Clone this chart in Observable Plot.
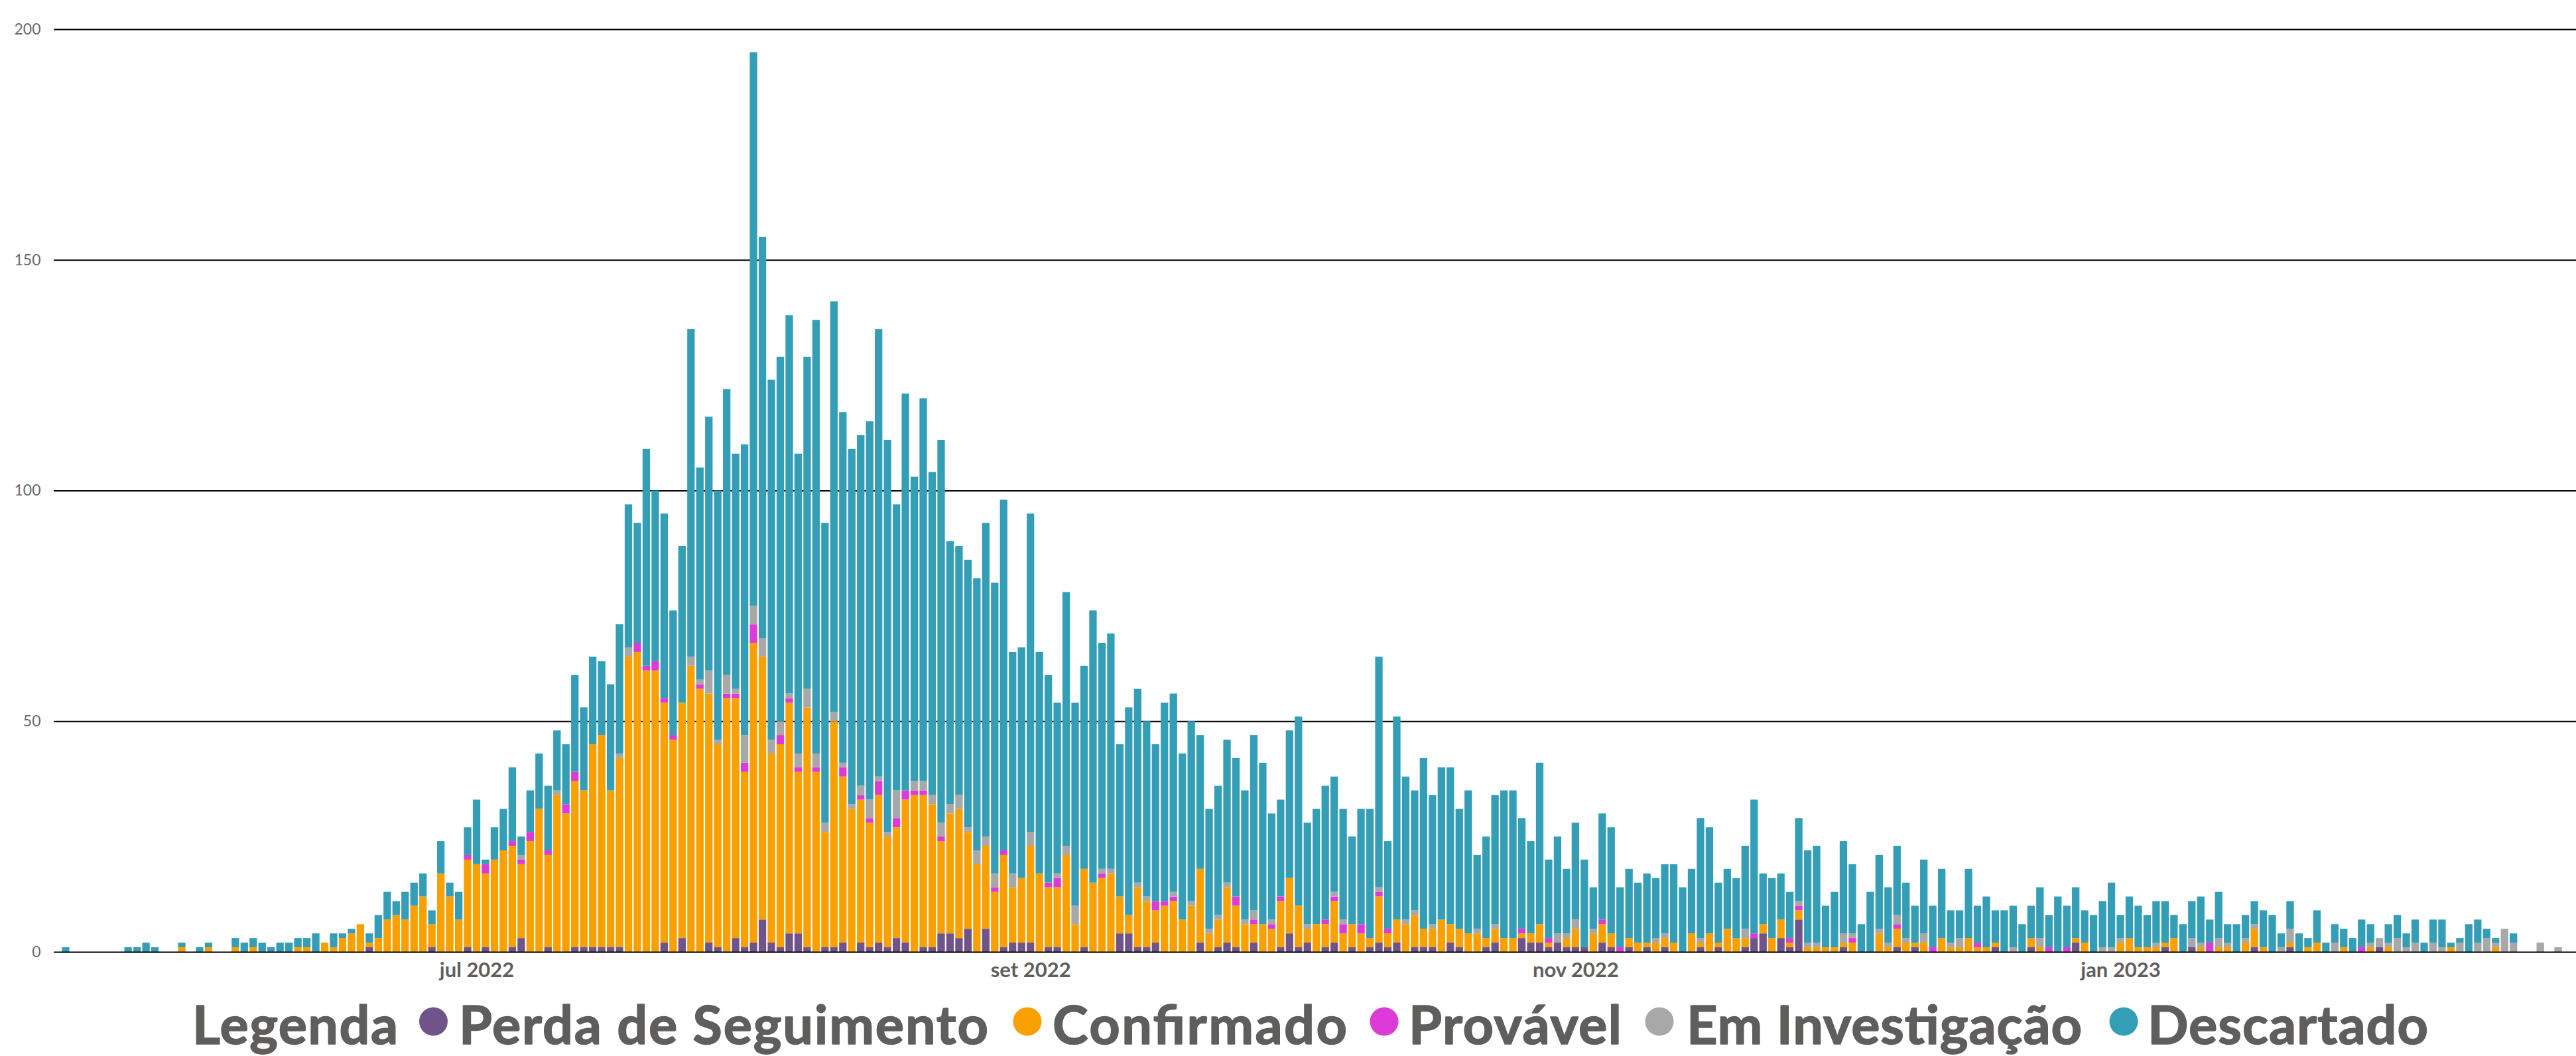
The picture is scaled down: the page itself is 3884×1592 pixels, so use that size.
<!DOCTYPE html>
<html>
<head>
<meta charset="utf-8">
<script src="https://cdn.jsdelivr.net/npm/d3@7"></script>
<script src="https://cdn.jsdelivr.net/npm/@observablehq/plot@0.6"></script>
<style>
  html, body { margin: 0; padding: 0; background: #ffffff; width: 3884px; height: 1592px; overflow: hidden; }
  #chart svg, #legend svg { display: block; }
</style>
</head>
<body>
<div id="chart"></div>
<div id="legend"></div>
<script>
// ---------------- DATA ----------------
const startDate = "2022-05-16"; // first day shown, one bar per day
const seriesNames = ["Perda de Seguimento", "Confirmado", "Provável", "Em Investigação", "Descartado"];
const seriesColors = ["#705489", "#F9A001", "#DC3BD8", "#A8A8A8", "#359EB7"];
const legendTitle = "Legenda";

const perda = [
  0,0,0,0,0,0,0,0,0,0, 0,0,0,0,0,0,0,0,0,0, 0,0,0,0,0,0,0,0,0,0,
  0,0,0,0,1,0,0,0,0,0, 0,1,0,0,0,1,0,1,0,0, 1,3,0,0,1,0,0,1,1,1,
  1,1,1,0,0,0,0,2,0,3, 0,0,2,1,0,3,1,2,7,2, 1,4,4,1,0,1,1,2,0,2,
  1,2,1,3,2,0,1,1,4,4, 3,5,0,5,0,1,2,2,2,0, 1,1,0,0,1,0,0,0,4,4,
  1,1,2,0,0,0,0,2,0,1, 2,1,0,2,0,0,1,4,1,2, 0,1,2,0,1,0,1,2,1,2,
  0,1,1,1,0,2,1,0,0,1, 2,0,0,3,2,2,1,2,1,1, 1,0,2,1,0,1,0,1,0,1,
  0,0,0,1,0,1,0,0,1,3, 4,0,3,1,7,0,0,0,0,1, 0,0,0,0,0,1,0,1,0,0,
  0,0,0,0,0,0,1,0,0,0, 1,0,0,0,0,2,0,0,0,0, 0,0,0,0,0,1,0,0,1,0,
  0,0,0,0,0,1,0,0,0,1, 0,0,0,0,0,0,0,0,0,1, 0,0,0,0,0,0,0,0,0,0,
  0,0,0,0,0,0,0,0,0,0
];
const confirmado = [
  0,0,0,0,0,0,0,0,0,0, 0,0,0,1,0,0,1,0,0,1, 0,1,0,0,0,0,1,1,0,2,
  1,3,4,6,1,3,7,8,7,10, 12,5,17,12,7,19,19,16,20,22, 22,16,24,31,20,34,30,36,34,44,
  46,34,41,64,65,61,61,52,46,51, 62,57,54,44,55,52,38,65,57,41, 44,50,35,52,39,25,49,36,31,31,
  27,32,24,24,31,34,33,31,20,26, 28,21,19,18,13,20,12,14,21,17, 13,13,21,6,17,15,16,17,8,4,
  13,10,7,10,11,7,10,16,4,6, 12,9,6,4,6,5,10,12,9,3, 6,5,9,4,5,4,2,10,3,5,
  6,7,4,4,7,4,4,4,4,2, 3,3,3,1,2,4,1,0,2,4, 0,4,4,3,0,2,2,1,2,2,
  2,0,4,1,4,1,5,3,2,0, 2,3,4,1,2,1,1,1,1,1, 2,0,0,4,1,4,2,1,2,0,
  3,1,1,3,1,1,1,0,0,0, 2,1,0,0,0,1,2,0,0,0, 2,3,1,1,1,1,3,0,0,1,
  0,1,1,0,2,4,1,0,0,1, 0,1,2,0,0,1,0,0,1,0, 1,0,0,0,0,0,0,1,0,0,
  0,0,1,0,0,0,0,0,0,0
];
const provavel = [
  0,0,0,0,0,0,0,0,0,0, 0,0,0,0,0,0,0,0,0,0, 0,0,0,0,0,0,0,0,0,0,
  0,0,0,0,0,0,0,0,0,0, 0,0,0,0,0,1,0,2,0,0, 1,1,2,0,1,0,2,2,0,0,
  0,0,0,0,2,1,2,1,1,0, 0,1,0,0,1,1,2,4,0,0, 2,1,1,0,1,0,0,2,0,1,
  1,3,0,2,2,1,1,0,1,0, 0,0,0,0,1,1,0,0,0,0, 1,2,0,0,0,0,1,0,0,0,
  0,0,2,1,1,0,0,0,0,0, 0,2,0,1,0,1,1,0,0,0, 0,1,1,2,0,2,0,1,1,0,
  0,0,0,0,0,0,0,0,0,0, 0,0,0,1,0,0,1,0,0,0, 0,0,1,0,1,0,0,0,0,0,
  0,0,0,0,0,0,0,0,0,1, 0,0,0,1,1,0,0,0,0,0, 1,0,0,0,0,1,0,0,0,1,
  0,0,0,0,1,0,0,0,0,0, 0,0,1,0,1,0,0,0,0,0, 0,0,0,0,0,0,0,0,0,0,
  2,0,0,0,0,0,0,0,0,0, 0,0,0,0,0,0,0,1,0,0, 0,0,0,0,0,0,0,0,0,0,
  0,0,0,0,0,0,0,0,0,0
];
const investigacao = [
  0,0,0,0,0,0,0,0,0,0, 0,0,0,0,0,0,0,0,0,0, 0,0,0,0,0,0,0,0,0,0,
  0,0,0,0,0,0,0,0,0,0, 0,0,0,0,0,0,0,0,0,0, 0,1,0,0,0,1,0,0,0,0,
  0,0,1,2,0,0,0,0,0,0, 2,1,5,1,4,1,6,4,4,3, 3,1,3,4,3,2,2,1,1,2,
  4,1,1,6,0,2,2,2,3,2, 3,1,3,2,3,0,3,0,3,0, 0,1,2,4,0,0,1,1,0,0,
  1,1,0,0,1,0,1,0,1,1, 1,0,1,2,0,1,0,0,0,1, 0,0,1,1,0,0,0,1,0,0,
  1,1,0,1,0,0,0,0,1,0, 1,0,0,0,0,0,0,2,1,2, 0,1,0,0,0,0,0,0,1,1,
  0,0,0,1,0,0,0,0,2,0, 0,0,0,0,1,1,1,0,0,2, 1,0,0,1,1,2,1,0,2,0,
  0,1,2,0,0,0,0,0,1,0, 0,2,0,0,0,0,0,0,1,1, 1,0,0,0,1,0,0,0,2,1,
  0,2,1,0,1,1,0,0,1,3, 0,0,0,0,2,0,0,0,1,2, 1,3,1,2,0,2,1,0,2,0,
  2,3,1,5,2,0,0,2,0,1
];
const descartado = [
  1,0,0,0,0,0,0,1,1,2, 1,0,0,1,0,1,1,0,0,2, 2,2,2,1,2,2,2,2,4,0,
  3,1,1,0,2,5,6,3,6,5, 5,3,7,3,6,6,14,1,7,9, 16,4,9,12,14,13,13,21,18,19,
  16,23,28,31,26,47,37,40,27,34, 71,46,55,54,62,51,63,120,87,78, 79,82,65,72,94,65,89,76,77,76,
  82,97,85,62,86,66,83,70,83,57, 54,58,59,68,63,76,48,50,69,48, 45,37,55,44,44,59,49,51,33,45,
  42,38,34,43,43,36,39,29,26,28, 31,30,28,38,35,23,21,32,41,22, 25,29,25,24,19,25,28,50,19,44,
  31,26,37,28,33,34,26,31,16,22, 28,32,32,24,20,35,17,21,14,21, 19,9,23,23,13,15,13,15,13,15,
  17,14,14,26,23,13,13,13,18,29, 11,13,10,10,18,20,21,9,12,20, 15,6,13,16,12,15,12,8,16,9,
  15,7,6,15,8,11,7,9,9,6, 7,11,7,12,9,11,7,8,10,14, 5,9,9,7,9,9,5,6,8,10,
  5,10,4,6,5,5,8,8,3,6, 4,2,7,2,4,4,3,6,4,0, 4,5,3,5,2,5,6,1,1,6,
  5,2,1,0,2,0,0,0,0,0
];

const xTickDates = ["2022-07-01", "2022-09-01", "2022-11-01", "2023-01-01"];
const xTickLabels = ["jul 2022", "set 2022", "nov 2022", "jan 2023"];
const yTicks = [0, 50, 100, 150, 200];

// ---------------- BUILD ----------------
const DAY = 864e5;
const t0 = Date.parse(startDate + "T00:00:00Z");
const seriesValues = [perda, confirmado, provavel, investigacao, descartado];
const rows = [];
for (let i = 0; i < perda.length; i++) {
  const d0 = new Date(t0 + i * DAY), d1 = new Date(t0 + (i + 1) * DAY);
  seriesNames.forEach((s, k) => {
    const v = seriesValues[k][i];
    if (v > 0) rows.push({d0, d1, series: s, value: v});
  });
}
// ticks sit at the middle of the day's bar
const xTickPos = xTickDates.map(d => new Date(Date.parse(d + "T12:00:00Z")));
const labelOf = new Map(xTickPos.map((d, i) => [+d, xTickLabels[i]]));

const W = 3884, H = 1495;
const chart = Plot.plot({
  width: W,
  height: H,
  marginLeft: 81,
  marginRight: 0,
  marginTop: 44,
  marginBottom: 60,
  style: {fontFamily: "Lato, 'Open Sans', sans-serif", background: "#ffffff", overflow: "visible"},
  x: {type: "utc", domain: [new Date(t0 - 0.83 * DAY), new Date(t0 + 281.5 * DAY)]},
  y: {domain: [0, 200]},
  color: {domain: seriesNames, range: seriesColors},
  marks: [
    Plot.ruleY([50, 100, 150, 200], {stroke: "#000000", strokeWidth: 2}),
    Plot.rectY(rows, {
      x1: "d0", x2: "d1", y: "value", fill: "series",
      order: seriesNames, insetLeft: 1.1, insetRight: 1.1
    }),
    Plot.ruleY([0], {stroke: "#000000", strokeWidth: 2}),
    Plot.axisY(yTicks, {
      tickSize: 0, tickPadding: 20, fontSize: 23, color: "#6a6a6a", label: null
    }),
    Plot.axisX(xTickPos, {
      tickSize: 0, tickPadding: 15, fontSize: 31, fontWeight: 700, color: "#605E5C",
      tickFormat: d => labelOf.get(+d), label: null
    })
  ]
});
document.getElementById("chart").appendChild(chart);

// ---------------- LEGEND ----------------
const LH = 1592 - H;
const legendLayout = {
  title: {x: 290, w: 310},
  items: [
    {dot: 653.5, x: 692, w: 798},
    {dot: 1549, x: 1587, w: 444},
    {dot: 2087, x: 2124, w: 321},
    {dot: 2502, x: 2543, w: 596},
    {dot: 3202, x: 3238, w: 423}
  ],
  baseline: 79, dotY: 45, r: 21.5, fontSize: 81
};
const lsvg = d3.select("#legend").append("svg")
  .attr("width", W).attr("height", LH)
  .style("font-family", "Lato, 'Open Sans', sans-serif")
  .style("font-weight", 700)
  .style("font-size", legendLayout.fontSize + "px")
  .attr("fill", "#605E5C")
  .attr("stroke", "#605E5C")
  .attr("stroke-width", 1.6)
  .attr("stroke-linejoin", "round");
lsvg.append("text")
  .attr("x", legendLayout.title.x).attr("y", legendLayout.baseline)
  .attr("textLength", legendLayout.title.w).attr("lengthAdjust", "spacing")
  .text(legendTitle);
seriesNames.forEach((s, k) => {
  const it = legendLayout.items[k];
  lsvg.append("circle").attr("cx", it.dot).attr("cy", legendLayout.dotY)
    .attr("r", legendLayout.r).attr("fill", seriesColors[k]).attr("stroke", "none");
  lsvg.append("text").attr("x", it.x).attr("y", legendLayout.baseline)
    .attr("textLength", it.w).attr("lengthAdjust", "spacing")
    .text(s);
});
</script>
</body>
</html>
